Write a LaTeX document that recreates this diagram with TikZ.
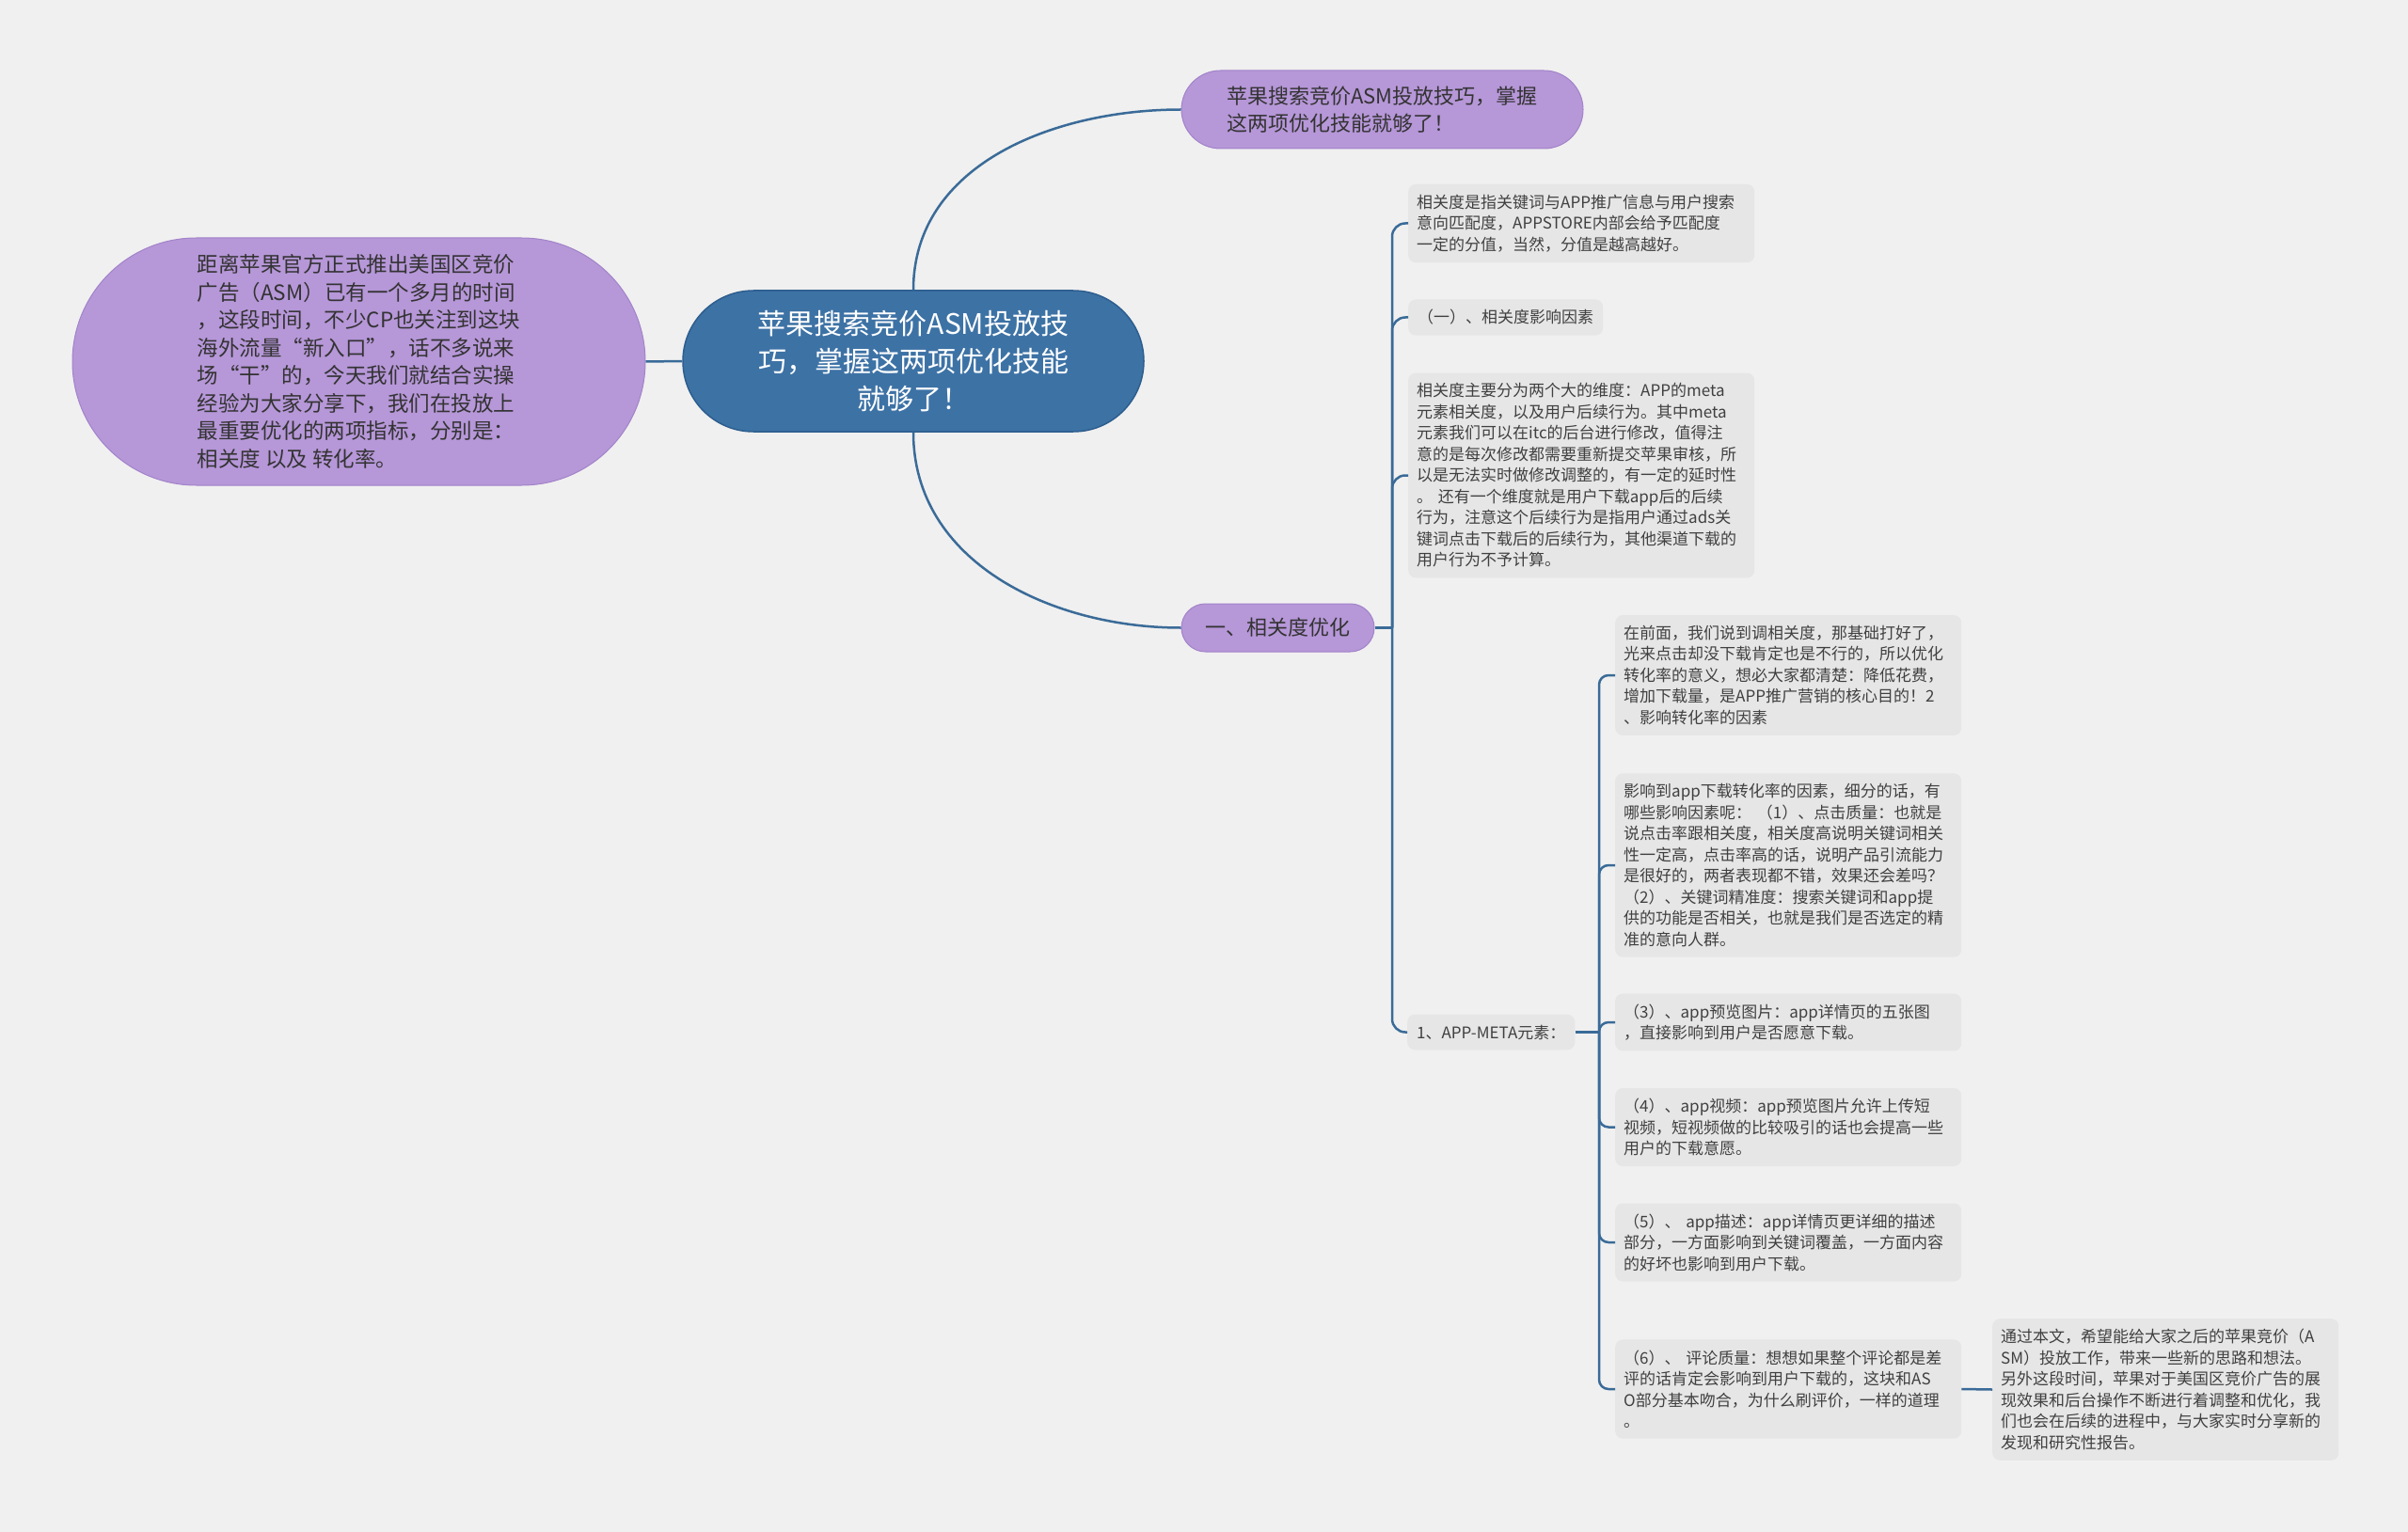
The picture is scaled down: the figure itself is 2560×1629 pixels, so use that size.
\documentclass[tikz,border=0pt]{standalone}
\usepackage{fontspec}
\setmainfont{Noto Sans CJK SC}
\usetikzlibrary{positioning,shapes.misc,calc}
\definecolor{paper}{HTML}{F0F0F0}
\definecolor{cardfill}{HTML}{E6E6E6}
\definecolor{lilac}{HTML}{B697D8}
\definecolor{lilacedge}{HTML}{A283C9}
\definecolor{steel}{HTML}{3D72A5}
\definecolor{steeledge}{HTML}{2D5E8E}
\definecolor{wire}{HTML}{3A6B98}
\definecolor{ink}{HTML}{333333}
\definecolor{inkmid}{HTML}{404040}
\tikzset{
  rootnode/.style={rounded rectangle,draw=steeledge,line width=1.5pt,fill=steel,text=white,align=center,minimum width=498pt,minimum height=150pt,inner xsep=4pt,font=\fontsize{30}{40}\selectfont},
  pillnode/.style={rounded rectangle,draw=lilacedge,line width=1pt,fill=lilac,text=ink,align=left,inner xsep=2pt,font=\fontsize{22}{29}\selectfont},
  notebox/.style={fill=cardfill,rounded corners=8pt,inner xsep=9pt,inner ysep=11pt,text width=350pt,align=left,text=inkmid,font=\fontsize{17}{22.5}\selectfont},
  tagbox/.style={fill=cardfill,rounded corners=8pt,inner xsep=10pt,inner ysep=11pt,align=left,text=inkmid,font=\fontsize{17}{22.5}\selectfont},
  link/.style={draw=wire,line width=2.5pt},
}
\begin{document}
\begin{tikzpicture}[x=1pt,y=-1pt]
  \fill[paper] (0,0) rectangle (2560,1629);
  % centre and first level
  \node[rootnode] (root) at (971,384) {苹果搜索竞价ASM投放技\\巧，掌握这两项优化技能\\就够了！};
  \node[pillnode,minimum width=431pt,minimum height=83pt] (title) at (1469.5,116.5) {苹果搜索竞价ASM投放技巧，掌握\\这两项优化技能就够了！};
  \node[pillnode,minimum width=609pt,minimum height=263pt,inner xsep=0pt,font=\fontsize{22.5}{29.5}\selectfont] (intro) at (381.5,384.5) {距离苹果官方正式推出美国区竞价\\广告（ASM）已有一个多月的时间\\，这段时间，不少CP也关注到这块\\海外流量“新入口”，话不多说来\\场“干”的，今天我们就结合实操\\经验为大家分享下，我们在投放上\\最重要优化的两项指标，分别是：\\相关度 以及 转化率。};
  \node[pillnode,minimum width=209pt,minimum height=51pt] (rel) at (1358.5,667.5) {一、相关度优化};
  % relevance branch
  \node[notebox,anchor=west] (defn) at (1497,237.5) {相关度是指关键词与APP推广信息与用户搜索\\意向匹配度，APPSTORE内部会给予匹配度\\一定的分值，当然，分值是越高越好。};
  \node[tagbox,anchor=west] (factor) at (1497,337.5) {（一）、相关度影响因素};
  \node[notebox,anchor=west] (dims) at (1497,505.5) {相关度主要分为两个大的维度：APP的meta\\元素相关度，以及用户后续行为。其中meta\\元素我们可以在itc的后台进行修改，值得注\\意的是每次修改都需要重新提交苹果审核，所\\以是无法实时做修改调整的，有一定的延时性\\。 还有一个维度就是用户下载app后的后续\\行为，注意这个后续行为是指用户通过ads关\\键词点击下载后的后续行为，其他渠道下载的\\用户行为不予计算。};
  \node[tagbox,anchor=west] (meta) at (1496,1097.5) {1、APP-META元素：};
  % meta elements
  \node[notebox,anchor=west] (conv) at (1717,718) {在前面，我们说到调相关度，那基础打好了，\\光来点击却没下载肯定也是不行的，所以优化\\转化率的意义，想必大家都清楚：降低花费，\\增加下载量，是APP推广营销的核心目的！2\\、影响转化率的因素};
  \node[notebox,anchor=west] (drivers) at (1717,920) {影响到app下载转化率的因素，细分的话，有\\哪些影响因素呢： （1）、点击质量：也就是\\说点击率跟相关度，相关度高说明关键词相关\\性一定高，点击率高的话，说明产品引流能力\\是很好的，两者表现都不错，效果还会差吗？\\（2）、关键词精准度：搜索关键词和app提\\供的功能是否相关，也就是我们是否选定的精\\准的意向人群。};
  \node[notebox,anchor=west] (shots) at (1717,1087) {（3）、app预览图片：app详情页的五张图\\，直接影响到用户是否愿意下载。};
  \node[notebox,anchor=west] (video) at (1717,1198.5) {（4）、app视频：app预览图片允许上传短\\视频，短视频做的比较吸引的话也会提高一些\\用户的下载意愿。};
  \node[notebox,anchor=west] (desc) at (1717,1321) {（5）、 app描述：app详情页更详细的描述\\部分，一方面影响到关键词覆盖，一方面内容\\的好坏也影响到用户下载。};
  \node[notebox,anchor=west] (reviews) at (1717,1477) {（6）、 评论质量：想想如果整个评论都是差\\评的话肯定会影响到用户下载的，这块和AS\\O部分基本吻合，为什么刷评价，一样的道理\\。};
  \node[notebox,anchor=west] (outro) at (2118,1477.5) {通过本文，希望能给大家之后的苹果竞价（A\\SM）投放工作，带来一些新的思路和想法。\\另外这段时间，苹果对于美国区竞价广告的展\\现效果和后台操作不断进行着调整和优化，我\\们也会在后续的进程中，与大家实时分享新的\\发现和研究性报告。};
  % connectors
  \draw[link] (root.west) -- (intro.east);
  \draw[link] (root.north) to[out=90,in=180] (title.west);
  \draw[link] (root.south) to[out=-90,in=180] (rel.west);
  \coordinate (relhub) at (1480,667.5);
  \draw[link] (rel.east) -- (relhub);
  \foreach \kid in {defn,factor,dims,meta}
    \draw[link,rounded corners=14pt] (relhub) |- (\kid.west);
  \coordinate (metahub) at (1700,1097.5);
  \draw[link] (meta.east) -- (metahub);
  \foreach \kid in {conv,drivers,shots,video,desc,reviews}
    \draw[link,rounded corners=10pt] (metahub) |- (\kid.west);
  \draw[link] (reviews.east) -- (outro.west);
\end{tikzpicture}
\end{document}
